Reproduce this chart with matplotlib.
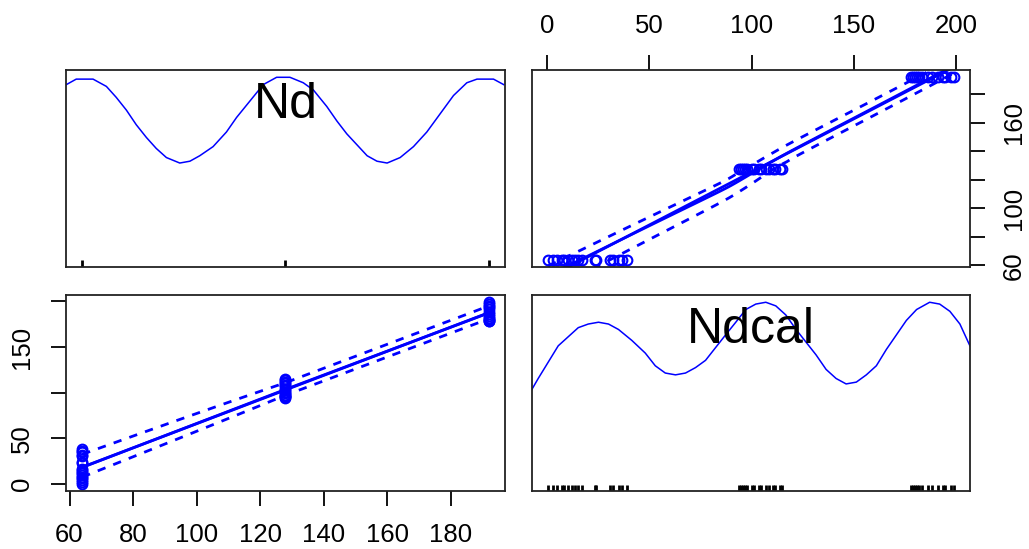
import numpy as np
import matplotlib
matplotlib.use("Agg")
import matplotlib.pyplot as plt
import matplotlib.transforms as mtransforms

plt.rcParams['font.family'] = ['Liberation Sans', 'DejaVu Sans']

# Nd levels and the calibrated values measured at each level
nd_levels = [64, 128, 192]
ndcal_64 = [0.5, 2.9, 4.6, 7.0, 8.4, 10.3, 11.9, 13.6, 15.2, 16.8, 23.4, 24.1,
            30.8, 32.4, 34.9, 36.5, 39.0]
ndcal_128 = [94, 95, 96, 97, 98, 100, 101, 103.5, 104.5, 107, 108.5, 110.5,
             111.5, 114, 115]
ndcal_192 = [178, 179, 180, 181, 182, 183.5, 186.5, 188.5, 191.5, 193.5, 194.5,
             197.5, 199]

# diagonal density curves, relative height (1 = top of the curve)
nd_dens_x = [59.0, 62.1, 67.4, 71.6, 74.7, 77.9, 81.0, 84.2, 87.3, 90.5,
             94.7, 97.9, 101.0, 105.2, 109.4, 112.6, 116.8, 121.0, 125.2, 129.4,
             133.6, 136.8, 141.0, 144.2, 147.3, 150.5, 153.7, 156.8, 160.0, 164.1,
             168.3, 172.5, 176.7, 180.9, 185.1, 188.3, 193.5, 196.7]
nd_dens_y = [0.96, 0.99, 0.99, 0.95, 0.89, 0.82, 0.74, 0.67, 0.61, 0.56,
             0.53, 0.54, 0.57, 0.62, 0.70, 0.78, 0.87, 0.96, 1.0, 1.0,
             0.97, 0.93, 0.84, 0.76, 0.69, 0.63, 0.57, 0.54, 0.53, 0.56,
             0.62, 0.70, 0.80, 0.90, 0.97, 0.99, 0.99, 0.96]
ndcal_dens_x = [-8.0, -4.4, 0.5, 5.4, 10.3, 15.2, 20.1, 25.1, 30.0, 34.9,
                41.4, 48.0, 52.9, 57.8, 62.8, 67.7, 72.6, 77.5, 82.4, 87.3,
                92.3, 97.2, 102.1, 107.0, 111.9, 116.8, 121.8, 126.7, 131.6, 136.5,
                141.4, 146.3, 151.3, 156.2, 161.1, 166.0, 170.9, 175.8, 180.8, 187.2,
                192.1, 197.1, 202.0, 206.9]
ndcal_dens_y = [0.51, 0.58, 0.67, 0.76, 0.81, 0.86, 0.88, 0.89, 0.88, 0.85,
                0.79, 0.72, 0.65, 0.61, 0.60, 0.61, 0.64, 0.68, 0.75, 0.82,
                0.89, 0.96, 0.99, 1.0, 0.98, 0.93, 0.85, 0.78, 0.71, 0.63,
                0.58, 0.55, 0.56, 0.60, 0.65, 0.74, 0.82, 0.90, 0.96, 1.0,
                0.99, 0.95, 0.88, 0.76]

nd = np.concatenate([np.full(len(g), lv, float) for lv, g in
                     zip(nd_levels, [ndcal_64, ndcal_128, ndcal_192])])
ndcal = np.concatenate([ndcal_64, ndcal_128, ndcal_192]).astype(float)

BLUE = '#0000ff'
TICK = dict(length=11, width=1.3, pad=12, labelsize=18.5)


def lims(v):
    lo, hi = np.min(v), np.max(v)
    pad = 0.04 * (hi - lo)
    return lo - pad, hi + pad


def loess(x, y, grid, span=0.75):
    # local linear fit with tricube weights
    x = np.asarray(x, float)
    y = np.asarray(y, float)
    k = int(np.ceil(span * len(x)))
    out = []
    for g in grid:
        d = np.abs(x - g)
        h = max(np.sort(d)[k - 1], 1e-9) * 1.01
        w = np.clip(1 - (d / h) ** 3, 0, None) ** 3
        xm = np.sum(w * x) / w.sum()
        ym = np.sum(w * y) / w.sum()
        sxx = np.sum(w * (x - xm) ** 2)
        b = np.sum(w * (x - xm) * (y - ym)) / sxx if sxx > 1e-12 else 0.0
        out.append(ym + b * (g - xm))
    return np.array(out)


def scatter_panel(ax, x, y):
    ax.plot(x, y, 'o', mfc='none', mec=BLUE, ms=7, mew=1.5, clip_on=False)
    grid = np.linspace(x.min(), x.max(), 120)
    b, a = np.polyfit(x, y, 1)
    ax.plot(grid, a + b * grid, color=BLUE, lw=2)
    fit = loess(x, y, grid)
    ax.plot(grid, fit, color=BLUE, lw=2)
    res = y - loess(x, y, x)
    pos = res > 0
    up = np.sqrt(np.clip(loess(x[pos], res[pos] ** 2, grid), 0, None))
    dn = np.sqrt(np.clip(loess(x[~pos], res[~pos] ** 2, grid), 0, None))
    ax.plot(grid, fit + up, color=BLUE, lw=2, ls=(0, (3, 3)))
    ax.plot(grid, fit - dn, color=BLUE, lw=2, ls=(0, (3, 3)))
    ax.set_xlim(lims(x))
    ax.set_ylim(lims(y))


def density_panel(ax, v, dx, dy, name, rug_h):
    lo, hi = np.min(v), np.max(v)
    ax.plot(dx, lo + np.array(dy) * (hi - lo), color=BLUE, lw=1.1)
    trans = mtransforms.blended_transform_factory(ax.transData, ax.transAxes)
    ax.vlines(np.unique(v), 0, rug_h, color='black', lw=2, transform=trans)
    ax.set_xlim(lims(v))
    ax.set_ylim(lims(v))
    ax.text(0.5, 0.82, name, transform=ax.transAxes, ha='center', va='center',
            fontsize=36)
    ax.set_xticks([])
    ax.set_yticks([])


fig = plt.figure(figsize=(10.29, 5.49), dpi=100)
W, H = 1029, 549
ax_tl = fig.add_axes([66 / W, 1 - 267 / H, 439 / W, 197 / H])
ax_tr = fig.add_axes([532 / W, 1 - 267 / H, 438 / W, 197 / H])
ax_bl = fig.add_axes([66 / W, 1 - 491 / H, 439 / W, 196 / H])
ax_br = fig.add_axes([532 / W, 1 - 491 / H, 438 / W, 196 / H])

for ax in (ax_tl, ax_tr, ax_bl, ax_br):
    for s in ax.spines.values():
        s.set_linewidth(1.3)
        s.set_color('#222222')

# diagonal: densities with rugs
density_panel(ax_tl, nd, nd_dens_x, nd_dens_y, 'Nd', 0.035)
density_panel(ax_br, ndcal, ndcal_dens_x, ndcal_dens_y, 'Ndcal', 0.03)

# upper: Nd against Ndcal
scatter_panel(ax_tr, ndcal, nd)
ax_tr.xaxis.tick_top()
ax_tr.yaxis.tick_right()
ax_tr.set_xticks([0, 50, 100, 150, 200])
ax_tr.set_yticks([60, 80, 100, 120, 140, 160, 180])
ax_tr.set_yticklabels(['60', '', '100', '', '', '160', ''])
ax_tr.tick_params(**TICK)
for lab in ax_tr.get_yticklabels():
    lab.set_rotation(90)
    lab.set_va('center')

# lower: Ndcal against Nd
scatter_panel(ax_bl, nd, ndcal)
ax_bl.set_xticks([60, 80, 100, 120, 140, 160, 180])
ax_bl.set_yticks([0, 50, 100, 150, 200])
ax_bl.set_yticklabels(['0', '50', '', '150', ''])
ax_bl.tick_params(**TICK)
for lab in ax_bl.get_yticklabels():
    lab.set_rotation(90)
    lab.set_va('center')

fig.savefig('out.png', dpi=100)
